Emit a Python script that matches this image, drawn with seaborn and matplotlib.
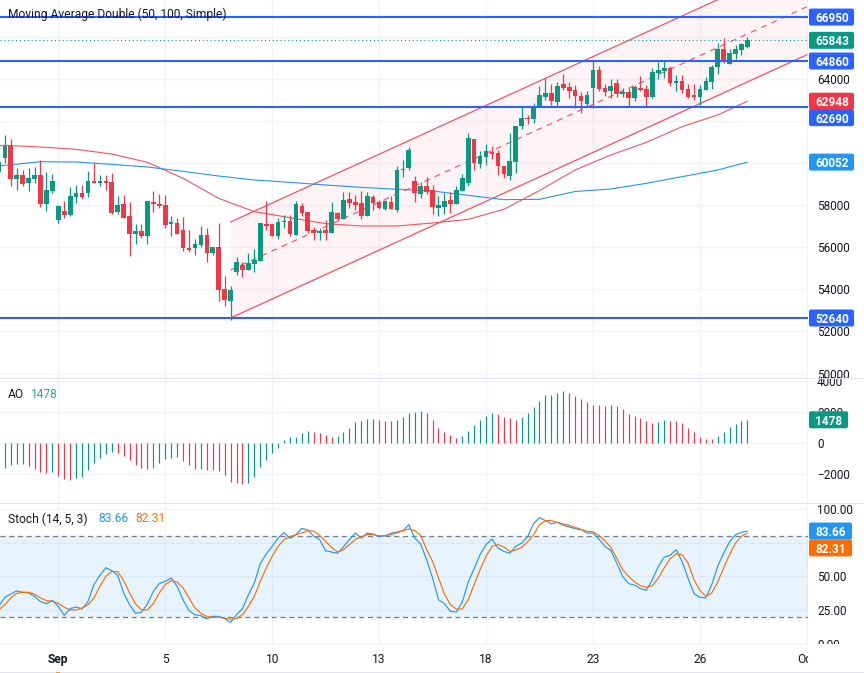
import matplotlib
matplotlib.use("Agg")
import matplotlib.pyplot as plt
import pandas as pd
import seaborn as sns
from matplotlib.patches import FancyBboxPatch, Rectangle
from matplotlib.transforms import IdentityTransform

W, H = 864, 673
GREEN = "#089981"
RED = "#f23645"
BLUE = "#2962ff"
MA_RED = "#f7525f"
MA_BLUE = "#2196f3"
STOCH_ORANGE = "#ff6d00"
GRID = "#f0f3fa"
SEP = "#e0e3eb"
INK = "#131722"

# candles, first one is cut by the left edge
bar_start = -1
opens = [
    59598, 60263, 60834, 59249, 59439, 59075, 59249, 59439, 58060, 58678,
    57299, 57727, 57537, 58393, 58583, 58583, 59154, 59059, 59154, 59106,
    57680, 58060, 57490, 56634, 56777, 56539, 58155, 58060, 58013, 57109,
    57157, 56824, 55968, 55968, 56111, 56586, 55730, 56016, 54018, 53448,
    54827, 55160, 54922, 55207, 55350, 57109, 57109, 56539, 57205, 57237,
    56587, 57966, 57680, 56825, 56682, 56825, 56682, 57633, 57348, 58299,
    58156, 58109, 57490, 58394, 58156, 57823, 58156, 57775, 59693, 59773,
    59154, 58536, 58917, 58727, 57871, 57918, 58251, 58061, 58679, 59059,
    61152, 59963, 60296, 60533, 60486, 59868, 59392, 60058, 61770, 62150,
    62103, 62721, 63165, 63323, 62911, 63767, 63608, 63481, 63196, 62816,
    63577, 64433, 63577, 63434, 63814, 63291, 63386, 63101, 63577, 63529,
    63149, 64290, 64385, 64528, 63814, 63909, 63529, 63244, 63149, 63481,
    63862, 64575, 65431, 64718, 65193, 65384, 65526,
]
highs = [
    60600, 61341, 61151, 59788, 59677, 59788, 59820, 60152, 59582, 59487,
    58013, 58203, 58869, 58964, 58964, 59629, 60010, 59439, 59439, 59534,
    58441, 58488, 58155, 57109, 57109, 58220, 58678, 58536, 58488, 57490,
    57395, 57442, 56824, 56396, 57014, 56919, 56030, 57157, 54637, 54161,
    55540, 55302, 55730, 55921, 57180, 58203, 57130, 57395, 57538, 57538,
    58204, 58109, 57700, 56967, 56920, 57300, 58156, 57680, 58631, 58631,
    58489, 58679, 58631, 58489, 58251, 58251, 58441, 59868, 60153, 60771,
    59392, 59107, 59345, 58964, 58441, 58584, 58631, 58917, 59487, 61437,
    61170, 60581, 60914, 60819, 60629, 59885, 61437, 61790, 62673, 62293,
    62863, 63672, 64036, 63767, 63878, 64242, 63878, 63719, 63386, 63434,
    64908, 64623, 63767, 64005, 64005, 63577, 63577, 63719, 64147, 63719,
    64528, 64813, 64908, 64623, 64195, 64195, 63767, 63767, 63719, 64100,
    64670, 65716, 65954, 65431, 65621, 65716, 66002,
]
lows = [
    59300, 60026, 58916, 58726, 58916, 58678, 59043, 57918, 57727, 58568,
    57157, 57395, 57500, 58108, 58298, 58393, 59040, 58916, 58726, 57585,
    57585, 57380, 55588, 56158, 56444, 56158, 57680, 57870, 56919, 56539,
    56620, 55825, 55778, 55635, 56016, 55302, 55635, 53448, 53210, 52545,
    54684, 54589, 54900, 54827, 55330, 56824, 56520, 56396, 56920, 56539,
    56570, 57490, 56682, 56349, 56349, 56349, 56660, 57253, 57330, 57871,
    57775, 57348, 57470, 57775, 57823, 57775, 57805, 57680, 59345, 59678,
    58156, 58346, 58536, 57585, 57490, 57585, 57633, 58040, 58660, 58917,
    59678, 59773, 59915, 60201, 59440, 59297, 59202, 59535, 61627, 61865,
    61912, 62673, 63006, 62752, 62721, 63481, 63117, 62626, 62388, 62673,
    62626, 63434, 63196, 63101, 63149, 63149, 62721, 62958, 63434, 62721,
    63101, 64005, 64052, 63672, 63434, 63339, 63101, 63006, 62768, 63460,
    63529, 64242, 64765, 64700, 64956, 65146, 65479,
]
closes = [
    60073, 60834, 59249, 59439, 59011, 59297, 59439, 58060, 58726, 59154,
    57965, 57537, 58441, 58583, 58393, 59154, 59059, 59154, 59059, 57632,
    58013, 57395, 56634, 56777, 56539, 58203, 58060, 57965, 57062, 57204,
    56634, 55968, 55873, 56158, 56586, 55730, 56016, 53971, 53496, 53971,
    55302, 54922, 55255, 55398, 57157, 57014, 56539, 57204, 57253, 56634,
    58061, 57633, 56777, 56682, 56777, 56682, 57680, 57348, 58251, 58109,
    58013, 57490, 58441, 58109, 57871, 58204, 57823, 59678, 59725, 60629,
    58584, 58917, 58631, 57918, 58013, 58204, 58061, 58727, 59297, 61199,
    60010, 60343, 60581, 60438, 59868, 59487, 60106, 61770, 62150, 62118,
    62721, 63244, 63323, 62959, 63672, 63577, 63434, 63196, 62959, 63244,
    64433, 63529, 63386, 63672, 63291, 63386, 63101, 63624, 63481, 63149,
    64337, 64433, 64528, 63814, 63909, 63481, 63149, 63149, 63529, 63909,
    64575, 65431, 64860, 65241, 65431, 65669, 65843,
]

# moving averages, read every 6 bars
ma_bars = [-1, 0, 6, 12, 18, 24, 30, 36, 42, 48, 54, 60, 66, 72, 78, 84, 90, 96, 102, 108, 114, 120, 125]
ma_fast = [60834, 60850, 60771, 60660, 60438, 60042, 59281, 58330, 57696, 57410, 57126, 57015,
           57015, 57157, 57332, 57807, 58700, 59677, 60391, 60993, 61738, 62293, 62948]
ma_slow = [59883, 59899, 60073, 60057, 59946, 59820, 59614, 59392, 59202, 59091, 58964, 58853,
           58758, 58679, 58473, 58267, 58283, 58655, 58774, 59043, 59361, 59677, 60052]

# regression channel
channel_bars = [38, 135]
channel_upper = [57205, 69710]
channel_mid = [54922, 67437]
channel_lower = [52640, 65155]

# horizontal levels
levels = [66950, 64860, 62690, 52640]
last_price = 65843

# AO, one bar per candle from 0
ao_values = [
    -1612, -1440, -1376, -1376, -1483, -1698, -1892, -1956, -1870, -2150,
    -2322, -2408, -2279, -2193, -1763, -1311, -989, -731, -602, -666,
    -860, -1118, -1440, -1634, -1677, -1634, -1311, -1053, -989, -903,
    -1182, -1440, -1698, -1698, -1763, -1763, -1827, -2085, -2537, -2601,
    -2666, -2601, -2214, -1569, -1118, -666, -322, 172, 365, 365,
    623, 752, 688, 623, 494, 365, 430, 688, 946, 1333,
    1397, 1526, 1526, 1462, 1397, 1397, 1462, 1655, 1913, 1978,
    2042, 1913, 1462, 946, 688, 494, 301, 430, 752, 1139,
    1462, 1720, 1913, 1849, 1655, 1591, 1462, 1655, 1913, 2300,
    2687, 3074, 3074, 3203, 3332, 3203, 3010, 2816, 2623, 2430,
    2430, 2365, 2430, 2365, 2172, 1849, 1720, 1591, 1397, 1268,
    1333, 1462, 1397, 1397, 1268, 946, 688, 365, 236, 236,
    430, 688, 1010, 1204, 1397, 1478,
]
ao_runs = [("up", 4), ("down", 4), ("up", 1), ("down", 3), ("up", 7), ("down", 6), ("up", 5),
           ("down", 3), ("up", 1), ("down", 7), ("up", 11), ("down", 4), ("up", 7), ("down", 3),
           ("up", 5), ("down", 6), ("up", 6), ("down", 4), ("up", 8), ("down", 7), ("up", 1),
           ("down", 7), ("up", 2), ("down", 8), ("up", 6)]

# stochastic, from the cut candle on
stoch_k = [
    27.9, 34.6, 37.0, 39.3, 38.3, 37.8, 35.3, 31.4, 29.9, 32.3,
    27.9, 21.2, 26.2, 27.4, 25.9, 31.6, 44.0, 50.9, 56.5, 54.3,
    50.9, 37.8, 29.1, 22.7, 23.5, 29.6, 39.0, 44.7, 46.4, 48.9,
    42.7, 32.8, 24.7, 21.7, 21.0, 18.5, 20.5, 20.5, 18.8, 16.0,
    21.7, 26.2, 36.5, 45.2, 59.5, 66.7, 72.3, 78.5, 82.5, 78.3,
    81.0, 85.7, 84.4, 79.8, 77.3, 69.1, 68.1, 67.2, 71.9, 77.3,
    82.2, 78.5, 82.2, 81.5, 79.5, 80.2, 82.0, 83.0, 83.7, 88.4,
    78.5, 74.1, 62.5, 48.9, 32.8, 29.9, 24.2, 23.7, 30.9, 45.9,
    55.8, 66.2, 73.6, 77.8, 71.1, 68.6, 67.2, 72.3, 74.8, 79.5,
    89.1, 93.6, 91.4, 89.1, 90.1, 87.9, 86.7, 85.4, 84.7, 82.2,
    82.2, 77.8, 72.3, 69.4, 60.0, 50.1, 44.7, 43.7, 41.0, 39.8,
    47.7, 57.5, 64.4, 65.7, 69.9, 61.2, 48.9, 37.3, 34.6, 34.1,
    44.0, 57.5, 67.4, 75.6, 81.0, 82.7, 83.66,
]
stoch_d = [
    25.4, 29.1, 34.1, 37.5, 38.3, 38.3, 37.0, 34.1, 32.1, 31.6,
    30.1, 27.2, 25.2, 25.2, 26.7, 29.1, 34.1, 42.7, 50.1, 53.8,
    53.6, 46.9, 37.8, 29.6, 25.4, 25.2, 30.1, 37.8, 44.0, 46.9,
    45.9, 41.5, 34.1, 26.7, 22.7, 20.5, 19.8, 19.8, 19.3, 18.3,
    18.8, 21.7, 27.9, 35.3, 46.4, 56.3, 64.9, 72.3, 77.3, 79.5,
    81.0, 82.2, 84.0, 83.5, 80.5, 76.0, 71.6, 68.1, 69.9, 73.6,
    77.5, 79.3, 81.0, 81.0, 80.2, 80.2, 81.0, 82.2, 84.0, 85.2,
    84.0, 80.5, 69.9, 61.2, 48.9, 37.0, 29.1, 25.9, 25.9, 32.8,
    44.0, 55.1, 64.9, 72.3, 73.6, 71.9, 68.6, 69.6, 71.6, 75.6,
    81.0, 88.4, 91.4, 91.4, 90.1, 88.9, 87.9, 86.4, 84.9, 83.5,
    83.0, 80.5, 76.5, 71.6, 63.7, 55.1, 50.1, 45.9, 43.2, 42.0,
    43.2, 48.9, 56.3, 63.2, 66.7, 66.2, 60.0, 47.7, 39.8, 35.3,
    37.8, 45.9, 56.3, 66.2, 74.8, 79.8, 82.31,
]

# time axis
tick_bars = [9, 27, 45, 63, 81, 99, 117, 135]
tick_names = ["Sep", "5", "10", "13", "18", "23", "26", "Oct"]

# scale labels, the ones behind a price tag stay blank
price_ticks = list(range(50000, 66001, 2000))
price_names = ["50000", "52000", "54000", "56000", "58000", "", "", "64000", ""]
stoch_ticks = [100, 75, 50, 25, 0]
stoch_names = ["100.00", "", "50.00", "25.00", "0.00"]

sns.set_theme(style="white")
plt.rcParams["font.family"] = ["Roboto", "DejaVu Sans"]
FONT = 8.5
FONT_TEXT = 8.65

fig = plt.figure(figsize=(W / 100, H / 100), dpi=100, facecolor="white")


def pane(top, bottom, right=808):
    return fig.add_axes([0, 1 - bottom / H, right / W, (bottom - top) / H])


def style_pane(a):
    a.set_xlim(-0.815, 135.2)
    a.set_xticks(tick_bars)
    a.set_xticklabels([])
    a.set_xlabel("")
    a.set_ylabel("")
    a.yaxis.tick_right()
    a.tick_params(length=0, pad=6.5, labelsize=FONT, labelcolor=INK)
    a.grid(True, color=GRID, lw=1)
    a.set_axisbelow(True)
    sns.despine(ax=a, left=True, bottom=True, right=True, top=True)


ax = pane(0, 378)
ax_ao = pane(380, 503)
ax_st = pane(505, 645)
ax_time = pane(645, 672)

# price pane
ax.fill_between(channel_bars, channel_lower, channel_upper, color=RED, alpha=0.05, lw=0, zorder=1)
sns.lineplot(x=channel_bars, y=channel_upper, color=MA_RED, lw=0.9, ax=ax, zorder=2)
sns.lineplot(x=channel_bars, y=channel_lower, color=MA_RED, lw=0.9, ax=ax, zorder=2)
ax.plot(channel_bars, channel_mid, color=MA_RED, lw=0.85, dashes=(5, 4.5), zorder=2)

sns.lineplot(x=ma_bars, y=ma_fast, color=MA_RED, lw=0.8, ax=ax, zorder=2.5)
sns.lineplot(x=ma_bars, y=ma_slow, color=MA_BLUE, lw=0.8, ax=ax, zorder=2.5)

bars = pd.DataFrame({"open": opens, "high": highs, "low": lows, "close": closes})
bars["bar"] = range(bar_start, bar_start + len(bars))
bars["color"] = [GREEN if c >= o else RED for o, c in zip(bars["open"], bars["close"])]
ax.vlines(bars["bar"], bars["low"], bars["high"], color=bars["color"], lw=0.9, zorder=3)
ax.bar(bars["bar"], (bars["close"] - bars["open"]).abs(), bottom=bars[["open", "close"]].min(axis=1),
       width=0.78, color=bars["color"], lw=0, zorder=3)

for level in levels:
    ax.axhline(level, color=BLUE, lw=1.5, zorder=4)
ax.axhline(last_price, color=GREEN, lw=0.8, ls=(0, (1, 2.5)), zorder=2)
style_pane(ax)
ax.set_ylim(49787, 67761)
ax.set_yticks(price_ticks)
ax.set_yticklabels(price_names)

# AO pane
ao_df = pd.DataFrame({"bar": range(len(ao_values)), "ao": ao_values})
ao_df["side"] = [side for side, n in ao_runs for _ in range(n)]
ao_df["color"] = ao_df["side"].map({"up": GREEN, "down": RED})
ax_ao.vlines(ao_df["bar"], 0, ao_df["ao"], color=ao_df["color"], lw=0.85, zorder=3)
style_pane(ax_ao)
ax_ao.set_ylim(-3890, 4045)
ax_ao.set_yticks([4000, 2000, 0, -2000])
ax_ao.set_yticklabels(["4000", "2000", "0", "\u22122000"])

# stochastic pane
ax_st.axhspan(20, 80, color=MA_BLUE, alpha=0.1, lw=0, zorder=1)
for limit in (20, 80):
    ax_st.axhline(limit, color="#787b86", lw=0.9, dashes=(4, 3), zorder=2)
st_bars = list(range(bar_start, bar_start + len(stoch_k)))
sns.lineplot(x=st_bars, y=stoch_k, color=MA_BLUE, lw=0.85, ax=ax_st, zorder=3)
sns.lineplot(x=st_bars, y=stoch_d, color=STOCH_ORANGE, lw=0.85, ax=ax_st, zorder=3)
style_pane(ax_st)
ax_st.set_ylim(-0.74, 102.96)
ax_st.set_yticks(stoch_ticks)
ax_st.set_yticklabels(stoch_names)

# white strip under the panes, hides the clipped 0.00 label
fig.add_artist(Rectangle((0, 1), W, 28, fc="white", ec="none", transform=IdentityTransform(), zorder=1))

# time axis
ax_time.set_zorder(2)
ax_time.patch.set_alpha(0)
ax_time.set_xlim(-0.815, 135.2)
ax_time.set_ylim(0, 1)
ax_time.axis("off")
for bar, name in zip(tick_bars, tick_names):
    ax_time.text(bar, 0.47, name, ha="center", va="center", fontsize=FONT_TEXT, color=INK, clip_on=True,
                 fontweight="bold" if name == "Sep" else "normal")


def hline_px(y, color, x0=0, x1=W):
    fig.add_artist(Rectangle((x0, H - y - 0.5), x1 - x0, 1, fc=color, ec="none",
                             transform=IdentityTransform(), zorder=3))


hline_px(378.5, SEP)
hline_px(503, SEP)
hline_px(644.5, GRID, 0, 808)
hline_px(672, SEP)
fig.add_artist(Rectangle((56, 0), 4, 1, fc="#ff9800", ec="none", transform=IdentityTransform(), zorder=3))


def px_text(x, y, s, **kw):
    kw.setdefault("fontsize", FONT_TEXT)
    kw.setdefault("color", INK)
    fig.text(x / W, 1 - y / H, s, va="center", zorder=6, **kw)


def tag(a, value, label, color, width=45, shift=0):
    y = a.transData.transform((0, value))[1] - shift
    fig.add_artist(FancyBboxPatch((809, y - 8.5), width, 17, boxstyle="round,pad=0,rounding_size=2",
                                  fc=color, ec="none", transform=IdentityTransform(), zorder=5))
    fig.text((809 + width / 2 + 0.5) / W, y / H, label, color="white", fontsize=FONT, fontweight="bold",
             ha="center", va="center_baseline", zorder=6)


tag(ax, 66950, "66950", BLUE)
tag(ax, last_price, "65843", GREEN)
tag(ax, 64860, "64860", BLUE)
tag(ax, 62948, "62948", RED)
tag(ax, 62690, "62690", BLUE, shift=11)
tag(ax, 60052, "60052", MA_BLUE)
tag(ax, 52640, "52640", BLUE)
tag(ax_ao, 1478, "1478", GREEN, width=39)
tag(ax_st, 83.66, "83.66", MA_BLUE, width=43, shift=0)
tag(ax_st, 82.31, "82.31", STOCH_ORANGE, width=43, shift=15)

px_text(8, 14, "Moving Average Double (50, 100, Simple)")
px_text(8, 394, "AO")
px_text(31, 394, "1478", color="#22ab94")
px_text(8, 519, "Stoch (14, 5, 3)")
px_text(98.5, 519, "83.66", color=MA_BLUE)
px_text(135.5, 519, "82.31", color=STOCH_ORANGE)

plt.savefig("out.png", dpi=100)
